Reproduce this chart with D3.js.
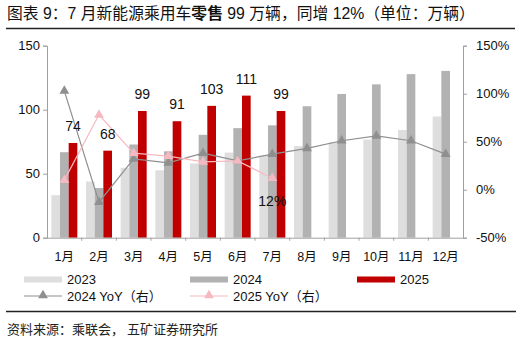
<!DOCTYPE html>
<html>
<head>
<meta charset="utf-8">
<script src="https://cdn.jsdelivr.net/npm/d3@7/dist/d3.min.js"></script>
<style>
  html, body { margin: 0; padding: 0; background: #fff; }
  svg { display: block; font-family: "Liberation Sans", Arial, "Noto Sans CJK SC", sans-serif; }
</style>
</head>
<body>
<svg id="chart" width="522" height="340"></svg>
<script>
// Monthly NEV passenger car retail sales (10k units) and YoY growth (%)
const months = ["1月","2月","3月","4月","5月","6月","7月","8月","9月","10月","11月","12月"];
const sales2023 = [33.2, 43.9, 54.6, 52.7, 58.0, 66.5, 64.0, 71.6, 74.5, 76.7, 84.1, 94.7];
const sales2024 = [66.8, 38.8, 72.8, 67.5, 80.4, 85.6, 87.8, 102.7, 112.3, 119.8, 127.8, 130.3];
const sales2025 = [74, 68, 99, 91, 103, 111, 99];
const yoy2024 = [103, -13, 32, 28, 38, 30, 37, 43, 51, 56, 51, 37];
const yoy2025 = [10, 78, 38, 35, 29, 30, 12];
const leftTicks = [0, 50, 100, 150];
const rightTicks = [-50, 0, 50, 100, 150];

const colors = { c2023: "#dedede", c2024: "#b2b2b2", c2025: "#c00000", y2024: "#8f8f8f", y2025: "#f6b9c2" };

const svg = d3.select("#chart");
const margin = { left: 47, right: 463, top: 45.7, bottom: 237.7 };

const x = d3.scaleBand().domain(months).range([margin.left, margin.right]);
const bw = x.bandwidth() / 4;
const yL = d3.scaleLinear().domain([0, 150]).range([margin.bottom, margin.top]);
const yR = d3.scaleLinear().domain([-50, 150]).range([margin.bottom, margin.top]);

// Title
const title = svg.append("text").attr("x", 7).attr("y", 19).attr("font-size", 15.8)
  .attr("font-family", "'Liberation Sans', Arial, 'Noto Sans CJK SC', sans-serif").attr("fill", "#111");
title.append("tspan").text("图表 9：7 月新能源乘用车");
title.append("tspan").attr("font-weight", "bold").text("零售");
title.append("tspan").text(" 99 万辆，同增 12%（单位：万辆）");
svg.append("line").attr("x1", 6).attr("x2", 515).attr("y1", 28.5).attr("y2", 28.5)
  .attr("stroke", "#222").attr("stroke-width", 1.4);

// Bars
const series = [
  { data: sales2023, color: colors.c2023, off: 0 },
  { data: sales2024, color: colors.c2024, off: 1 },
  { data: sales2025, color: colors.c2025, off: 2 }
];
series.forEach(s => {
  svg.append("g").selectAll("rect").data(s.data).join("rect")
    .attr("x", (d, i) => x(months[i]) + bw / 2 + s.off * bw)
    .attr("y", d => yL(d))
    .attr("width", bw)
    .attr("height", d => yL(0) - yL(d))
    .attr("fill", s.color);
});

// Axes
const axisColor = "#a0a0a0";
const gL = svg.append("g").attr("transform", `translate(${margin.left},0)`)
  .call(d3.axisLeft(yL).tickValues(leftTicks).tickSize(4).tickPadding(3));
const gR = svg.append("g").attr("transform", `translate(${margin.right},0)`)
  .call(d3.axisRight(yR).tickValues(rightTicks).tickSize(4).tickPadding(9).tickFormat(d => d + "%"));
const gX = svg.append("g").attr("transform", `translate(0,${margin.bottom})`)
  .call(d3.axisBottom(x).tickSize(0).tickPadding(14));
// band boundary ticks on the category axis
svg.append("g").selectAll("line").data(d3.range(1, months.length)).join("line")
  .attr("x1", i => margin.left + i * x.step()).attr("x2", i => margin.left + i * x.step())
  .attr("y1", margin.bottom).attr("y2", margin.bottom + 3)
  .attr("stroke", axisColor);
[gL, gR, gX].forEach(g => {
  g.selectAll(".domain").attr("stroke", axisColor);
  g.selectAll(".tick line").attr("stroke", axisColor);
  g.selectAll("text").attr("font-size", 13).attr("fill", "#111")
    .attr("font-family", "'Liberation Sans', Arial, 'Noto Sans CJK SC', sans-serif");
});
gX.select(".domain").attr("d", `M${margin.left},0.5H${margin.right}`);
gX.selectAll("text").attr("font-size", 12.5);

// YoY lines
const tri = d3.symbol().type(d3.symbolTriangle).size(42);
function drawLine(data, color) {
  const line = d3.line().x((d, i) => x(months[i]) + x.bandwidth() / 2).y(d => yR(d));
  svg.append("path").datum(data).attr("d", line).attr("fill", "none")
    .attr("stroke", color).attr("stroke-width", 1.2);
  svg.append("g").selectAll("path").data(data).join("path")
    .attr("d", tri)
    .attr("transform", (d, i) => `translate(${x(months[i]) + x.bandwidth() / 2},${yR(d)})`)
    .attr("fill", color);
}
drawLine(yoy2024, colors.y2024);
drawLine(yoy2025, colors.y2025);

// Value labels for 2025 bars
svg.append("g").selectAll("text").data(sales2025).join("text")
  .attr("x", (d, i) => x(months[i]) + bw / 2 + 2.5 * bw)
  .attr("y", d => yL(d) - 12)
  .attr("text-anchor", "middle").attr("font-size", 14).attr("fill", "#111")
  .text(d => d);

// Latest YoY label
const last = yoy2025.length - 1;
svg.append("text")
  .attr("x", x(months[last]) + x.bandwidth() / 2)
  .attr("y", yR(yoy2025[last]) + 28)
  .attr("text-anchor", "middle").attr("font-size", 14).attr("fill", "#111")
  .text(yoy2025[last] + "%");

// Legend
const lg = svg.append("g").attr("font-size", 13).attr("fill", "#111");
const legendBars = [
  { label: "2023", color: colors.c2023, x: 24 },
  { label: "2024", color: colors.c2024, x: 190 },
  { label: "2025", color: colors.c2025, x: 357 }
];
legendBars.forEach(l => {
  lg.append("rect").attr("x", l.x).attr("y", 276.5).attr("width", 38).attr("height", 6).attr("fill", l.color);
  lg.append("text").attr("x", l.x + 43).attr("y", 284).text(l.label);
});
const legendLines = [
  { label: "2024 YoY（右）", color: colors.y2024, x: 24 },
  { label: "2025 YoY（右）", color: colors.y2025, x: 190 }
];
legendLines.forEach(l => {
  lg.append("line").attr("x1", l.x).attr("x2", l.x + 38).attr("y1", 296).attr("y2", 296)
    .attr("stroke", l.color).attr("stroke-width", 1.2);
  lg.append("path").attr("d", tri).attr("transform", `translate(${l.x + 19},295.5)`).attr("fill", l.color);
  lg.append("text").attr("x", l.x + 43).attr("y", 301).text(l.label);
});

// Footer
svg.append("line").attr("x1", 6).attr("x2", 516).attr("y1", 311.5).attr("y2", 311.5)
  .attr("stroke", "#222").attr("stroke-width", 1.4);
svg.append("text").attr("x", 7).attr("y", 334).attr("font-size", 13)
  .attr("font-family", "'Noto Sans CJK SC', sans-serif").attr("fill", "#222")
  .text("资料来源：乘联会， 五矿证券研究所");
</script>
</body>
</html>
